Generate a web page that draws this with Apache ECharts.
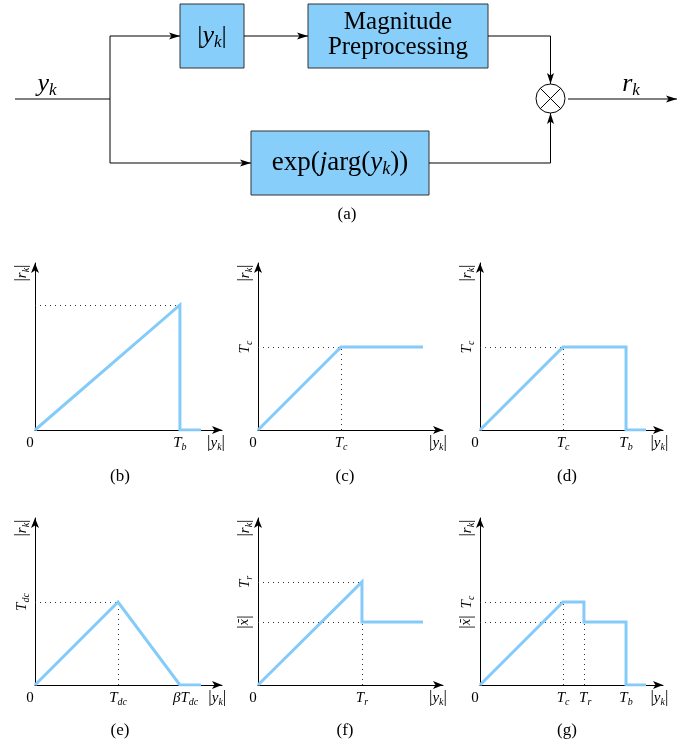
<!DOCTYPE html>
<html><head><meta charset="utf-8">
<script src="https://cdn.jsdelivr.net/npm/echarts@6/dist/echarts.min.js"></script>
<style>html,body{margin:0;padding:0;background:#fff}#c{width:694px;height:745px}</style>
</head><body><div id="c"></div>
<script>
// ---- data (abstract units: 0..100 along each drawn axis) ----
const curveB = [[0,0],[77.5,74.9],[77.5,0],[88.8,0]];
const curveC = [[0,0],[44.9,49.7],[89.2,49.7]];
const curveD = [[0,0],[45.4,49.7],[79.8,49.7],[79.8,0],[90.7,0]];
const curveE = [[0,0],[44.4,49.7],[77.5,0],[88.8,0]];
const curveF = [[0,0],[56.2,61.7],[56.2,37.7],[89.2,37.7]];
const curveG = [[0,0],[45.4,49.7],[56.8,49.7],[56.8,37.7],[79.8,37.7],[79.8,0],[90.7,0]];

const dotB = [[[0,74.9],[77.5,74.9]]];
const dotC = [[[0,49.7],[44.9,49.7]],[[44.9,0],[44.9,49.7]]];
const dotD = [[[0,49.7],[45.4,49.7]],[[45.4,0],[45.4,49.7]]];
const dotE = [[[0,49.7],[44.4,49.7]],[[44.4,0],[44.4,49.7]]];
const dotF = [[[0,61.7],[56.2,61.7]],[[0,37.7],[56.2,37.7]],[[56.2,0],[56.2,37.7]]];
const dotG = [[[0,49.7],[45.4,49.7]],[[0,37.7],[56.8,37.7]],[[45.4,0],[45.4,49.7]],[[56.8,0],[56.8,37.7]]];

const xValsB = [0,77.5,96.8],        xLabsB = ['0','Tb','yk'];
const xValsC = [0,44.9,97.3],        xLabsC = ['0','Tc','yk'];
const xValsD = [0,45.4,79.8,98],     xLabsD = ['0','Tc','Tb','yk'];
const xValsE = [0,44.4,80.5,97.5],   xLabsE = ['0','Tdc','bTdc','yk'];
const xValsF = [0,56.2,97.3],        xLabsF = ['0','Tr','yk'];
const xValsG = [0,45.4,57.5,79.8,98],xLabsG = ['0','Tc','Tr','Tb','yk'];

const yValsB = [94],            yLabsB = ['rk'];
const yValsC = [49.7,94],       yLabsC = ['Tc','rk'];
const yValsD = [49.7,94],       yLabsD = ['Tc','rk'];
const yValsE = [49.7,94],       yLabsE = ['Tdc','rk'];
const yValsF = [61.7,37.7,94],  yLabsF = ['Tr','xbar','rk'];
const yValsG = [49.7,37.7,94],  yLabsG = ['Tc','xbar','rk'];

const captions = ['(b)','(c)','(d)','(e)','(f)','(g)'];

// ---- layout ----
const grids = [
  {left:35, top:263, width:187, height:167},
  {left:258,top:263, width:185, height:167},
  {left:480,top:263, width:183, height:167},
  {left:35, top:518, width:187, height:167},
  {left:258,top:518, width:185, height:167},
  {left:480,top:518, width:183, height:167}
];
const captionPos = [[120,477],[345,477],[567,477],[120,731],[345,731],[567,731]];

const SERIF = '"Liberation Serif","DejaVu Serif",serif';
const BLUE = '#85CBF9';
const rich = {
  n: {fontFamily:SERIF, fontSize:17, lineHeight:18, color:'#000'},
  z: {fontFamily:SERIF, fontSize:15, lineHeight:18, color:'#000', padding:[0,10,0,0]},
  t: {fontFamily:SERIF, fontStyle:'italic', fontSize:15, lineHeight:18, color:'#000'},
  s: {fontFamily:SERIF, fontStyle:'italic', fontSize:10, lineHeight:10, verticalAlign:'bottom', color:'#000'},
  x: {fontFamily:'"DejaVu Serif",serif', fontStyle:'italic', fontSize:12, lineHeight:18, color:'#000'}
};
function fmt(lab){
  switch(lab){
    case '0': return '{z|0}';
    case 'yk': return '{n||}{t|y}{s|k}{n||}';
    case 'rk': return '{n||}{t|r}{s|k}{n||}';
    case 'bTdc': return '{t|\u03B2T}{s|dc}';
    case 'xbar': return '{n||}{x|x\u0304}{n||}';
    default: return '{t|' + lab[0] + '}{s|' + lab.slice(1) + '}';
  }
}
const curves = [curveB,curveC,curveD,curveE,curveF,curveG];
const dots = [dotB,dotC,dotD,dotE,dotF,dotG];
const xVals = [xValsB,xValsC,xValsD,xValsE,xValsF,xValsG];
const xLabs = [xLabsB,xLabsC,xLabsD,xLabsE,xLabsF,xLabsG];
const yVals = [yValsB,yValsC,yValsD,yValsE,yValsF,yValsG];
const yLabs = [yLabsB,yLabsC,yLabsD,yLabsE,yLabsF,yLabsG];

const axisLine = {show:true, onZero:false, symbol:['none','arrow'], symbolSize:[6,10], lineStyle:{color:'#000', width:1}};
const xAxis = [], yAxis = [], series = [];
for (let i=0;i<6;i++){
  const xv = xVals[i], xl = xLabs[i], yv = yVals[i], yl = yLabs[i];
  xAxis.push({gridIndex:i, type:'value', min:0, max:100, axisLine, axisTick:{show:false}, splitLine:{show:false},
    axisLabel:{customValues:xv, margin:4, formatter:(v)=>fmt(xl[xv.indexOf(v)]), rich}});
  yAxis.push({gridIndex:i, type:'value', min:0, max:100, axisLine, axisTick:{show:false}, splitLine:{show:false},
    axisLabel:{customValues:yv, margin:4, rotate:90, formatter:(v)=>fmt(yl[yv.indexOf(v)]), rich}});
  series.push({type:'lines', coordinateSystem:'cartesian2d', xAxisIndex:i, yAxisIndex:i, silent:true,
    lineStyle:{color:'#333', width:1, type:[1,4], opacity:1},
    data: dots[i].map(c=>({coords:c}))});
  series.push({type:'line', xAxisIndex:i, yAxisIndex:i, data:curves[i], symbol:'none', silent:true,
    lineStyle:{color:BLUE, width:3, join:'miter'}, z:5});
}

// ---- block diagram (a) ----
function arrow(x,y,dir){ // dir: 'r','d','u'
  const L=11, W=3.5, I=2.5;
  let pts;
  if(dir==='r') pts=[[x,y],[x-L,y-W],[x-L+I,y],[x-L,y+W]];
  if(dir==='d') pts=[[x,y],[x-W,y-L],[x,y-L+I],[x+W,y-L]];
  if(dir==='u') pts=[[x,y],[x-W,y+L],[x,y+L-I],[x+W,y+L]];
  return {type:'polygon', shape:{points:pts}, style:{fill:'#000'}, z:10};
}
function pl(points){ return {type:'polyline', shape:{points}, style:{stroke:'#000', lineWidth:1, fill:null}}; }
function box(x,y,w,h){ return {type:'rect', shape:{x,y,width:w,height:h}, style:{fill:'#87CEFA', stroke:'#333', lineWidth:1}}; }
function mkRich(sz){
  return {
    n:{fontFamily:SERIF, fontSize:sz, lineHeight:sz+4, fill:'#000'},
    t:{fontFamily:SERIF, fontStyle:'italic', fontSize:sz, lineHeight:sz+4, fill:'#000'},
    s:{fontFamily:SERIF, fontStyle:'italic', fontSize:Math.round(sz*0.65), lineHeight:Math.round(sz*0.65), verticalAlign:'bottom', fill:'#000'}
  };
}
function txt(x,y,text,size,richObj){
  return {type:'text', x, y, style:{text, font: size+'px '+SERIF, fill:'#000', align:'center', verticalAlign:'middle', rich:richObj}, z:20};
}
const cx=550.5, cy=98.5, cr=14.5, d=cr*0.7071;
const yTop=36, yIn=99, yBot=163, xBr=110;
const graphic = [
  box(180,4,64,64), box(308,4,180,64), box(251,131,178,64),
  pl([[15,yIn],[xBr,yIn]]), pl([[xBr,yTop],[xBr,yBot]]),
  pl([[xBr,yTop],[180,yTop]]), pl([[244,yTop],[308,yTop]]),
  pl([[488,yTop],[cx,yTop],[cx,cy-cr]]),
  pl([[xBr,yBot],[251,yBot]]), pl([[429,yBot],[cx,yBot],[cx,cy+cr]]),
  pl([[cx+cr+3,yIn],[677,yIn]]),
  arrow(180,yTop,'r'), arrow(308,yTop,'r'), arrow(251,yBot,'r'), arrow(677,yIn,'r'),
  arrow(cx,cy-cr,'d'), arrow(cx,cy+cr,'u'),
  {type:'circle', shape:{cx,cy,r:cr}, style:{fill:'#fff', stroke:'#000', lineWidth:1}},
  {type:'line', shape:{x1:cx-d,y1:cy-d,x2:cx+d,y2:cy+d}, style:{stroke:'#000', lineWidth:1}},
  {type:'line', shape:{x1:cx-d,y1:cy+d,x2:cx+d,y2:cy-d}, style:{stroke:'#000', lineWidth:1}},
  txt(212,36,'{n||}{t|y}{s|k}{n||}',26,mkRich(26)),
  txt(398,22,'Magnitude',25),
  txt(398,47,'Preprocessing',25),
  txt(340,163,'{n|exp(}{t|j}{n|arg(}{t|y}{s|k}{n|))}',27,mkRich(27)),
  txt(47,84,'{t|y}{s|k}',26,mkRich(26)),
  txt(631,84,'{t|r}{s|k}',26,mkRich(26)),
  txt(347,215,'(a)',17)
];
captions.forEach((c,i)=>graphic.push(txt(captionPos[i][0],captionPos[i][1],c,17)));

const chart = echarts.init(document.getElementById('c'), null, {renderer:'canvas'});
chart.setOption({animation:false, grid:grids, xAxis, yAxis, series, graphic});
</script></body></html>
